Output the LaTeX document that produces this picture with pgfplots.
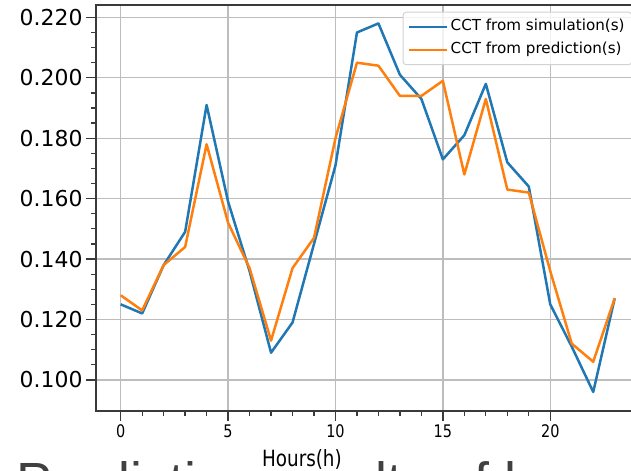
\documentclass[border=0pt]{standalone}
\usepackage{pgfplots}
\pgfplotsset{compat=1.18}
\usepackage{graphicx}
\usepackage{fontspec}
\setmainfont{DejaVu Sans}
\newfontfamily\bigfont{Liberation Sans}
\definecolor{simblue}{HTML}{1F77B4}
\definecolor{predorange}{HTML}{FF7F0E}
\definecolor{gridgray}{HTML}{BDBDBD}
\definecolor{spine}{HTML}{3A3A3A}
\begin{document}
\begin{tikzpicture}
\useasboundingbox (0,0) rectangle (631bp,471bp);
\node[anchor=base west, inner sep=0pt, text=black!75, font=\bigfont\fontsize{54}{60}\selectfont] at (16.7bp,-29.7bp) {Prediction results of l};
\begin{axis}[
  at={(96bp,466bp)}, anchor=north west,
  scale only axis, width=543.4bp, height=406bp,
  xmin=-1.15, xmax=24.15, ymin=0.0897, ymax=0.2241,
  xtick={0,5,10,15,20},
  ytick={0.10,0.12,0.14,0.16,0.18,0.20,0.22},
  minor x tick num=4, minor y tick num=3,
  tick align=outside, major tick length=10bp, minor tick length=5bp,
  tick pos=left,
  tick style={spine, line width=1.3bp},
  axis line style={spine, line width=1.5bp},
  grid=major, major grid style={gridgray, line width=1.4bp},
  /pgf/number format/assume math mode=true,
  scaled y ticks=false,
  yticklabel style={font=\fontsize{22}{26}\selectfont, /pgf/number format/.cd, fixed, fixed zerofill, precision=3},
  xticklabel={\scalebox{1}[1.2]{\pgfmathprintnumber{\tick}}},
  xticklabel style={font=\fontsize{14.5}{17}\selectfont},
  xlabel={\scalebox{1}[1.22]{Hours(h)}},
  xlabel style={at={(axis description cs:0.379,-0.1372)}, anchor=base, font=\fontsize{18.4}{22}\selectfont, inner sep=0pt},
  legend cell align=left,
  legend style={at={(axis description cs:0.5644,0.9835)}, anchor=north west, draw=gray!35, line width=1bp, rounded corners=3bp, fill=white, fill opacity=0.8, text opacity=1, font=\fontsize{15.2}{18}\selectfont, inner xsep=5bp, inner ysep=5.5bp, row sep=4.5bp, nodes={inner sep=2bp, text height=11bp, text depth=3.5bp}},
  legend image code/.code={\path (0bp,0bp) -- (38bp,0bp); \draw[#1, line width=2.5bp] (0bp,0bp) -- (32bp,0bp);},
]
\addplot[simblue, line width=2.5bp, line join=round] coordinates {
(0,0.125) (1,0.122) (2,0.138) (3,0.149) (4,0.191) (5,0.159) (6,0.136) (7,0.109)
(8,0.119) (9,0.145) (10,0.171) (11,0.215) (12,0.218) (13,0.201) (14,0.193) (15,0.173)
(16,0.181) (17,0.198) (18,0.172) (19,0.164) (20,0.125) (21,0.111) (22,0.096) (23,0.127)};
\addlegendentry{CCT from simulation(s)}
\addplot[predorange, line width=2.5bp, line join=round] coordinates {
(0,0.128) (1,0.123) (2,0.138) (3,0.144) (4,0.178) (5,0.152) (6,0.137) (7,0.113)
(8,0.137) (9,0.147) (10,0.180) (11,0.205) (12,0.204) (13,0.194) (14,0.194) (15,0.199)
(16,0.168) (17,0.193) (18,0.163) (19,0.162) (20,0.136) (21,0.112) (22,0.106) (23,0.127)};
\addlegendentry{CCT from prediction(s)}
\end{axis}
\end{tikzpicture}
\end{document}
